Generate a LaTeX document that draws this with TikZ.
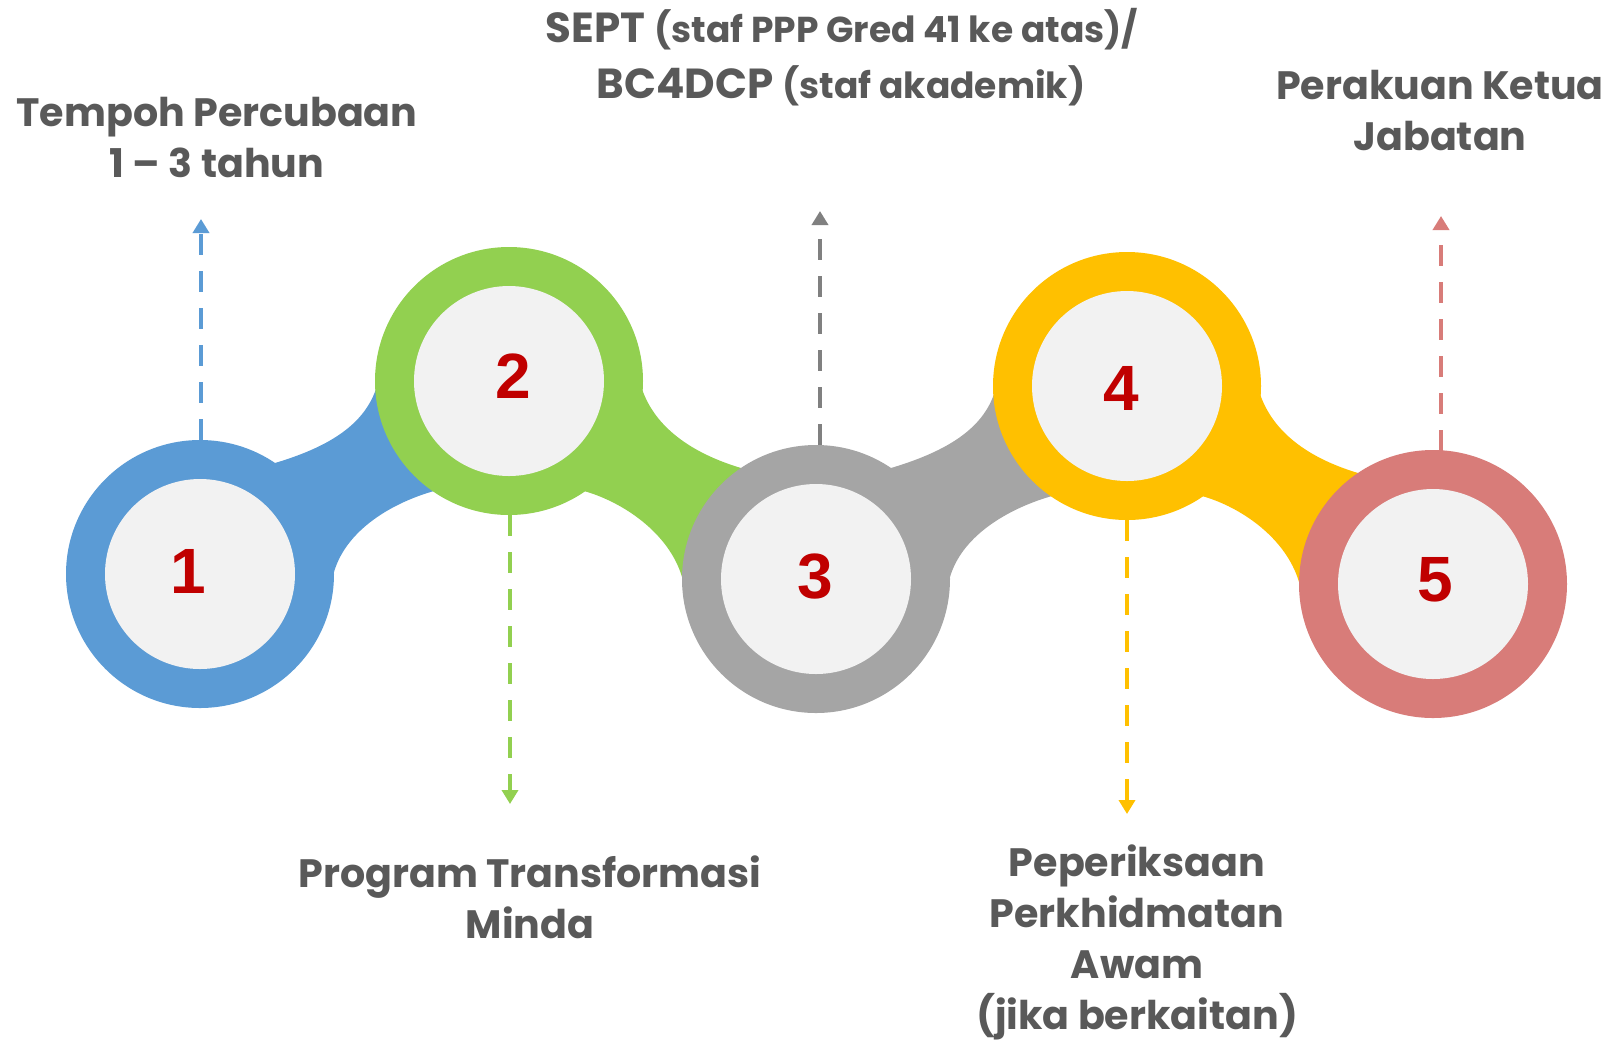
\documentclass[tikz,border=0pt]{standalone}
\usepackage{fontspec}
\newfontfamily\lblfont{Poppins}
\newfontfamily\numfont{Liberation Sans}
\usetikzlibrary{arrows.meta,calc,backgrounds}
\definecolor{cblue}{HTML}{5B9BD5}
\definecolor{cgreen}{HTML}{92D050}
\definecolor{cgray}{HTML}{A5A5A5}
\definecolor{cgrayd}{HTML}{808080}
\definecolor{cyellow}{HTML}{FFC000}
\definecolor{cpink}{HTML}{D87C79}
\definecolor{corefill}{HTML}{F2F2F2}
\definecolor{numred}{HTML}{C00000}
\definecolor{lblgray}{HTML}{595959}
\newcommand\upband[3]{\fill[#3] (#1.center) -- ($(#1.center)+(75,-111)$) .. controls ($(#1.center)+(125,-126)$) and ($(#2.center)+(-146,46)$) .. ($(#2.center)+(-133,8)$) -- (#2.center) -- ($(#2.center)+(-75,110)$) .. controls ($(#2.center)+(-114,121)$) and ($(#1.center)+(147,-46)$) .. ($(#1.center)+(134,-2)$) -- cycle;}
\newcommand\downband[3]{\fill[#3] (#1.center) -- ($(#1.center)+(133,8)$) .. controls ($(#1.center)+(146,46)$) and ($(#2.center)+(-125,-126)$) .. ($(#2.center)+(-75,-111)$) -- (#2.center) -- ($(#2.center)+(-134,-2)$) .. controls ($(#2.center)+(-147,-46)$) and ($(#1.center)+(114,121)$) .. ($(#1.center)+(75,110)$) -- cycle;}
\begin{document}
\begin{tikzpicture}[x=0.5pt,y=-0.5pt,
  ring/.style={circle, minimum size=134pt, inner sep=0pt, draw=none},
  core/.style={circle, minimum size=95pt, inner sep=0pt, fill=corefill},
  num/.style={inner sep=0pt, text=numred, font=\numfont\bfseries\fontsize{32}{32}\selectfont},
  lbl/.style={inner sep=0pt, text=lblgray, align=center, font=\lblfont\bfseries\fontsize{19.8}{25.5}\selectfont},
  lead/.style={dash pattern=on 10.5pt off 8pt, line width=2pt, -{Triangle[width=8pt,length=7pt]}}]
\useasboundingbox (0,0) rectangle (1613,1041);
% rings
\node[ring, fill=cblue]   (c1) at (200,574) {};
\node[ring, fill=cgreen]  (c2) at (509,381) {};
\node[ring, fill=cgray]   (c3) at (816,579) {};
\node[ring, fill=cyellow] (c4) at (1127,386) {};
\node[ring, fill=cpink]   (c5) at (1433,584) {};
\begin{scope}[on background layer]
\upband{c1}{c2}{cblue}
\downband{c2}{c3}{cgreen}
\upband{c3}{c4}{cgray}
\downband{c4}{c5}{cyellow}
\end{scope}
\node[core] (k1) at (c1) {};
\node[core] (k2) at (c2) {};
\node[core] (k3) at (c3) {};
\node[core] (k4) at (c4) {};
\node[core] (k5) at (c5) {};
\node[num] (d1) at (188,571) {1};
\node[num] (d2) at (513,376) {2};
\node[num] (d3) at (815,577) {3};
\node[num] (d4) at (1121,388) {4};
\node[num] (d5) at (1435,580) {5};
% leader arrows
\coordinate (t1) at (201,219);
\coordinate (t2) at (510,804);
\coordinate (t3) at (820,211);
\coordinate (t4) at (1127,814);
\coordinate (t5) at (1441,216);
\draw[lead, cblue]   ($(c1.north)+(1,0)$) -- (t1);
\draw[lead, cgreen]  ($(c2.south)+(1,0)$) -- (t2);
\draw[lead, cgrayd]  ($(c3.north)+(4,0)$) -- (t3);
\draw[lead, cyellow] (c4.south) -- (t4);
\draw[lead, cpink]   ($(c5.north)+(8,1)$) -- (t5);
% labels
\node[lbl] (l1) at (217,137) {Tempoh Percubaan\\1 – 3 tahun};
\node[lbl, font=\lblfont\bfseries\fontsize{21}{25}\selectfont] (l3a) at (842,29) {SEPT {\fontsize{18}{20}\selectfont (staf PPP Gred 41 ke atas)/}};
\node[lbl, font=\lblfont\bfseries\fontsize{21}{25}\selectfont] (l3b) at (841,86) {BC4DCP {\fontsize{18}{20}\selectfont (staf akademik)}};
\node[lbl] (l5) at (1440,110) {Perakuan Ketua\\Jabatan};
\node[lbl] (l2) at (530,897) {Program Transformasi\\Minda};
\node[lbl] (l4) at (1137,942) {Peperiksaan\\Perkhidmatan\\Awam\\(jika berkaitan)};
\end{tikzpicture}
\end{document}
